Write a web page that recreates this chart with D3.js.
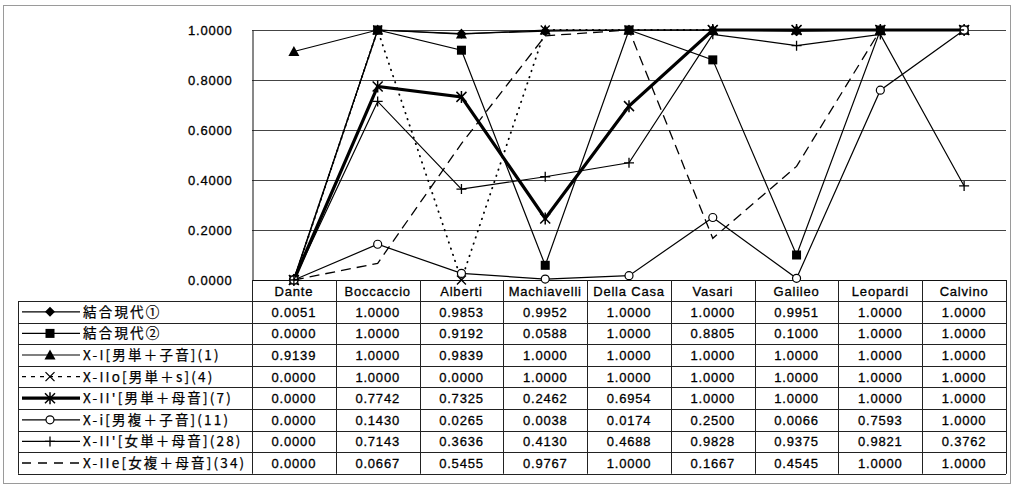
<!DOCTYPE html>
<html>
<head>
<meta charset="utf-8">
<script src="https://cdn.jsdelivr.net/npm/d3@7"></script>
<style>
  html, body { margin: 0; padding: 0; background: #fff; }
  svg { display: block; }
  .num { font-family: "Liberation Sans", Arial, sans-serif; font-size: 13px; letter-spacing: 0.8px; fill: #000; stroke: #000; stroke-width: 0.3px; }
  .jp { font-family: "Noto Sans CJK JP", sans-serif; font-size: 13.5px; letter-spacing: 2.2px; fill: #000; stroke: #000; stroke-width: 0.25px; }
</style>
</head>
<body>
<svg id="chart" width="1014" height="485"></svg>
<script>
// Authors along the x axis
const categories = ["Dante", "Boccaccio", "Alberti", "Machiavelli", "Della Casa", "Vasari", "Galileo", "Leopardi", "Calvino"];

// Series names (legend / table row headers)
const seriesNames = [
  "結合現代①",
  "結合現代②",
  "X-I[男単＋子音](1)",
  "X-IIo[男単＋s](4)",
  "X-II'[男単＋母音](7)",
  "X-i[男複＋子音](11)",
  "X-II'[女単＋母音](28)",
  "X-IIe[女複＋母音](34)"
];

// Series values, one array per series
const gendai1  = [0.0051, 1.0000, 0.9853, 0.9952, 1.0000, 1.0000, 0.9951, 1.0000, 1.0000];
const gendai2  = [0.0000, 1.0000, 0.9192, 0.0588, 1.0000, 0.8805, 0.1000, 1.0000, 1.0000];
const xI1      = [0.9139, 1.0000, 0.9839, 1.0000, 1.0000, 1.0000, 1.0000, 1.0000, 1.0000];
const xIIo4    = [0.0000, 1.0000, 0.0000, 1.0000, 1.0000, 1.0000, 1.0000, 1.0000, 1.0000];
const xII7     = [0.0000, 0.7742, 0.7325, 0.2462, 0.6954, 1.0000, 1.0000, 1.0000, 1.0000];
const xi11     = [0.0000, 0.1430, 0.0265, 0.0038, 0.0174, 0.2500, 0.0066, 0.7593, 1.0000];
const xII28    = [0.0000, 0.7143, 0.3636, 0.4130, 0.4688, 0.9828, 0.9375, 0.9821, 0.3762];
const xIIe34   = [0.0000, 0.0667, 0.5455, 0.9767, 1.0000, 0.1667, 0.4545, 1.0000, 1.0000];

// Y axis tick values
const yTicks = [0, 0.2, 0.4, 0.6, 0.8, 1.0];

const seriesValues = [gendai1, gendai2, xI1, xIIo4, xII7, xi11, xII28, xIIe34];

// Line style and marker for each series
const styles = [
  { width: 1.2, dash: null,   marker: "diamond" },
  { width: 1.2, dash: null,   marker: "square" },
  { width: 1.2, dash: null,   marker: "triangle" },
  { width: 1.8, dash: "0.5,6", marker: "cross", cap: "round" },
  { width: 3.2, dash: null,   marker: "asterisk" },
  { width: 1.2, dash: null,   marker: "circle" },
  { width: 1.2, dash: null,   marker: "plus" },
  { width: 1.3, dash: "10,6", marker: null }
];

const svg = d3.select("#chart");

// Geometry
const plotLeft = 252, plotRight = 1006, plotTop = 30, plotBottom = 280;
const headerBottom = 301, rowH = 21.6, legendLeft = 18;

const x = d3.scaleBand().domain(categories).range([plotLeft, plotRight]).padding(0);
const y = d3.scaleLinear().domain([0, 1]).range([plotBottom, plotTop]);
const cx = d => x(d) + x.bandwidth() / 2;

// Outer frame
svg.append("rect")
  .attr("x", 3.5).attr("y", 5.5).attr("width", 1007).attr("height", 478)
  .attr("fill", "none").attr("stroke", "#9a9a9a").attr("stroke-width", 1);

// Horizontal gridlines
svg.append("g").selectAll("line").data(yTicks.filter(t => t > 0)).join("line")
  .attr("x1", plotLeft).attr("x2", plotRight)
  .attr("y1", d => Math.round(y(d)) + 0.5).attr("y2", d => Math.round(y(d)) + 0.5)
  .attr("stroke", "#444").attr("stroke-width", 1);

// Y axis
const yAxis = svg.append("g")
  .attr("transform", `translate(${plotLeft + 0.5},0)`)
  .call(d3.axisLeft(y).tickValues(yTicks).tickFormat(d3.format(".4f")).tickSize(0).tickPadding(20));
yAxis.select(".domain").attr("stroke", "#111").attr("stroke-width", 1);
yAxis.selectAll("text").attr("class", "num").attr("font-size", null).attr("font-family", null)
  .style("font-size", "13px").attr("dy", "0.35em");

// X axis line (top of the data table)
svg.append("line")
  .attr("x1", plotLeft).attr("x2", plotRight)
  .attr("y1", plotBottom + 0.5).attr("y2", plotBottom + 0.5)
  .attr("stroke", "#111");

// Data table
const table = svg.append("g");
const nRows = seriesNames.length;
const tableBottom = headerBottom + rowH * nRows;

// Vertical separators between category columns
table.selectAll("line.col").data(categories.map(c => x(c)).concat([plotRight])).join("line")
  .attr("class", "col")
  .attr("x1", d => Math.round(d) + 0.5).attr("x2", d => Math.round(d) + 0.5)
  .attr("y1", plotBottom).attr("y2", tableBottom)
  .attr("stroke", "#222");

// Legend column left edge
table.append("line")
  .attr("x1", legendLeft + 0.5).attr("x2", legendLeft + 0.5)
  .attr("y1", headerBottom).attr("y2", tableBottom).attr("stroke", "#222");

// Row separators
const rowLines = d3.range(nRows + 1).map(i => headerBottom + i * rowH);
table.selectAll("line.row").data(rowLines).join("line")
  .attr("class", "row")
  .attr("x1", legendLeft).attr("x2", plotRight)
  .attr("y1", d => Math.round(d) + 0.5).attr("y2", d => Math.round(d) + 0.5)
  .attr("stroke", "#222");

// Category header labels
table.selectAll("text.cat").data(categories).join("text")
  .attr("class", "num")
  .attr("x", d => cx(d)).attr("y", (plotBottom + headerBottom) / 2 + 5)
  .attr("text-anchor", "middle")
  .text(d => d);

// Value cells
seriesValues.forEach((vals, i) => {
  table.append("g").selectAll("text").data(vals).join("text")
    .attr("class", "num")
    .attr("x", (d, j) => cx(categories[j]))
    .attr("y", headerBottom + rowH * i + rowH / 2 + 5)
    .attr("text-anchor", "middle")
    .text(d => d3.format(".4f")(d));
});

// Marker drawing
function drawMarker(g, type, px, py) {
  const s = "#000";
  switch (type) {
    case "diamond":
      g.append("path").attr("d", `M${px},${py - 5}L${px + 5},${py}L${px},${py + 5}L${px - 5},${py}Z`).attr("fill", s);
      break;
    case "square":
      g.append("rect").attr("x", px - 4.5).attr("y", py - 4.5).attr("width", 9).attr("height", 9).attr("fill", s);
      break;
    case "triangle":
      g.append("path").attr("d", `M${px},${py - 5.5}L${px + 5.5},${py + 4.5}L${px - 5.5},${py + 4.5}Z`).attr("fill", s);
      break;
    case "cross":
      g.append("path").attr("d", `M${px - 4.5},${py - 4.5}L${px + 4.5},${py + 4.5}M${px + 4.5},${py - 4.5}L${px - 4.5},${py + 4.5}`)
        .attr("stroke", s).attr("stroke-width", 1.3).attr("fill", "none");
      break;
    case "asterisk":
      g.append("path").attr("d", `M${px - 5},${py - 5}L${px + 5},${py + 5}M${px + 5},${py - 5}L${px - 5},${py + 5}M${px},${py - 6}L${px},${py + 6}`)
        .attr("stroke", s).attr("stroke-width", 1.5).attr("fill", "none");
      break;
    case "circle":
      g.append("circle").attr("cx", px).attr("cy", py).attr("r", 4)
        .attr("fill", "#fff").attr("stroke", s).attr("stroke-width", 1.2);
      break;
    case "plus":
      g.append("path").attr("d", `M${px - 5},${py}L${px + 5},${py}M${px},${py - 5}L${px},${py + 5}`)
        .attr("stroke", s).attr("stroke-width", 1.3).attr("fill", "none");
      break;
  }
}

// Series lines and markers
const line = d3.line().x((d, j) => cx(categories[j])).y(d => y(d));
const plot = svg.append("g");
seriesValues.forEach((vals, i) => {
  const st = styles[i];
  const g = plot.append("g");
  g.append("path").datum(vals)
    .attr("d", line)
    .attr("fill", "none").attr("stroke", "#000")
    .attr("stroke-width", st.width)
    .attr("stroke-linejoin", "miter")
    .attr("stroke-linecap", st.cap || "butt")
    .attr("stroke-dasharray", st.dash);
  if (st.marker) vals.forEach((v, j) => drawMarker(g, st.marker, cx(categories[j]), y(v)));
});

// Legend keys and labels in the first column
seriesNames.forEach((name, i) => {
  const st = styles[i];
  const ry = headerBottom + rowH * i + rowH / 2;
  const g = svg.append("g");
  const x1 = 22, x2 = 80;
  g.append("line").attr("x1", x1).attr("x2", x2).attr("y1", ry).attr("y2", ry)
    .attr("stroke", "#000").attr("stroke-width", i === 3 ? 1.2 : st.width)
    .attr("stroke-dasharray", i === 3 ? "4,5" : (i === 7 ? "9,7" : st.dash));
  if (st.marker) drawMarker(g, st.marker, 50, ry);
  g.append("text").attr("class", "jp").attr("x", 83).attr("y", ry + 5).text(name);
});
</script>
</body>
</html>
